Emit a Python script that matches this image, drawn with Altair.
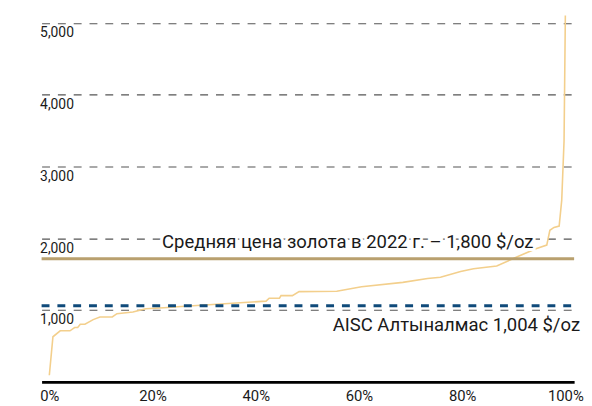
import altair as alt
import pandas as pd

# cost curve: cumulative share of production (%) vs AISC ($/oz)
pct = [0, 0.7, 2.1, 4.0, 4.9, 5.5, 6.0, 6.9, 8.5, 9.8, 12.2, 13.1, 16.2, 18.7, 22.2,
       24.8, 42.0, 42.6, 44.6, 44.9, 47.1, 48.4, 55.7, 60.5, 68.5, 73.3, 75.8, 79.7,
       82.2, 86.7, 90.8, 94.3, 96.4, 97.0, 97.8, 98.8, 99.3, 99.75, 100]
aisc = [92, 628, 711, 711, 757, 757, 802, 802, 867, 903, 903, 949, 972, 1018, 1032,
        1045, 1124, 1165, 1165, 1201, 1201, 1256, 1261, 1325, 1385, 1440, 1456, 1536,
        1575, 1614, 1745, 1853, 1905, 2110, 2150, 2170, 2531, 3356, 5100]

x_ticks = [0, 20, 40, 60, 80, 100]
y_ticks = [1000, 2000, 3000, 4000, 5000]

gold_level = 1715
gold_text = "Средняя цена золота в 2022 г. – 1,800 $/oz"
aisc_level = 1060
aisc_text = "AISC Алтыналмас 1,004 $/oz"

FONT = "Roboto"
df = pd.DataFrame({"pct": pct, "aisc": aisc})

xs = alt.Scale(domain=[-1.5, 101.7], nice=False, zero=False)
ys = alt.Scale(domain=[0, 5172], nice=False)

x_axis = alt.Axis(values=x_ticks, labelExpr="datum.value + '%'", grid=False,
                  ticks=False, domain=True, domainColor="#000000", domainWidth=3,
                  labelFontSize=15, labelColor="#1a1a1a", labelFont=FONT,
                  labelPadding=7, title=None, labelFlush=False)
y_axis = alt.Axis(values=y_ticks, labelExpr="format(datum.value, ',')", grid=True,
                  gridDash=[8, 8], gridColor="#555555", gridWidth=1.2, ticks=False,
                  domain=False, labelAlign="left", labelBaseline="top", labelPadding=2,
                  labelOffset=3, labelFontSize=14, labelColor="#1a1a1a",
                  labelFont=FONT, title=None)

line = alt.Chart(df).mark_line(color="#f3cf8c", strokeWidth=1.6).encode(
    x=alt.X("pct:Q", scale=xs, axis=x_axis),
    y=alt.Y("aisc:Q", scale=ys, axis=y_axis),
)

gold = alt.Chart().mark_rule(color="#b9a06e", strokeWidth=3).encode(
    y=alt.datum(gold_level, scale=ys), x=alt.value(0), x2=alt.value(539))

blue = alt.Chart().mark_rule(color="#0f4a7a", strokeWidth=3, strokeDash=[8, 8]).encode(
    y=alt.datum(aisc_level, scale=ys), x=alt.value(0), x2=alt.value(539))

gold_halo = alt.Chart().mark_text(
    align="right", baseline="alphabetic", dy=-11, dx=8, fontSize=18.7, font=FONT,
    stroke="white", strokeWidth=6, color="white", text=gold_text
).encode(x=alt.datum(92.3, scale=xs), y=alt.datum(gold_level, scale=ys))

gold_lbl = alt.Chart().mark_text(
    align="right", baseline="alphabetic", dy=-11, dx=8, fontSize=18.7, font=FONT,
    color="#1a1a1a", text=gold_text
).encode(x=alt.datum(92.3, scale=xs), y=alt.datum(gold_level, scale=ys))

aisc_lbl = alt.Chart().mark_text(
    align="right", baseline="alphabetic", dy=26, dx=6, fontSize=18.7, font=FONT,
    color="#1a1a1a", text=aisc_text
).encode(x=alt.datum(101.7, scale=xs), y=alt.datum(aisc_level, scale=ys))

chart = alt.layer(line, gold_halo, gold_lbl, gold, blue, aisc_lbl).properties(
    width=539, height=376,
    autosize=alt.AutoSizeParams(type="none"),
    padding={"left": 34, "top": 0, "right": 10, "bottom": 22},
).configure_view(stroke=None)

chart.save("out.html", embed_options={"renderer": "svg", "actions": False})
